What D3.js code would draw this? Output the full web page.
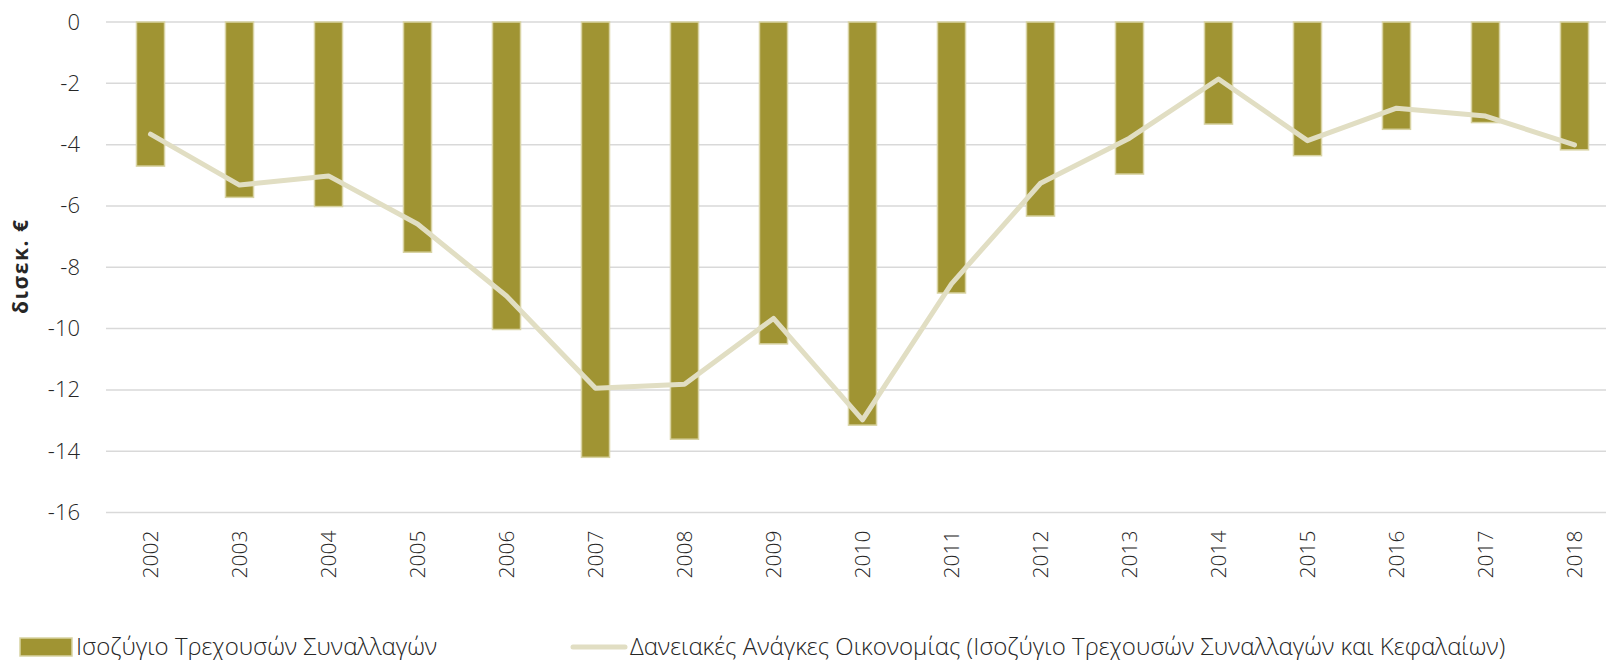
<!DOCTYPE html>
<html>
<head>
<meta charset="utf-8">
<script src="https://cdn.jsdelivr.net/npm/d3@7"></script>
<style>
  body { margin: 0; background: #fff; }
  svg { display: block; font-family: "Open Sans", sans-serif; }
</style>
</head>
<body>
<svg id="chart" width="1606" height="660"></svg>
<script>
var years = ['2002', '2003', '2004', '2005', '2006', '2007', '2008', '2009', '2010',
             '2011', '2012', '2013', '2014', '2015', '2016', '2017', '2018'];
// Ισοζύγιο Τρεχουσών Συναλλαγών (bars)
var currentAccount = [-4.70, -5.72, -6.02, -7.51, -10.03, -14.20, -13.61, -10.50, -13.15,
                      -8.84, -6.33, -4.96, -3.33, -4.36, -3.50, -3.28, -4.17];
// Δανειακές Ανάγκες Οικονομίας (line)
var borrowingNeeds = [-3.66, -5.32, -5.02, -6.59, -8.94, -11.95, -11.82, -9.67, -12.98,
                      -8.54, -5.26, -3.79, -1.86, -3.87, -2.81, -3.07, -4.01];
var yTicks = [0, -2, -4, -6, -8, -10, -12, -14, -16];

var barName = 'Ισοζύγιο Τρεχουσών Συναλλαγών';
var lineName = 'Δανειακές Ανάγκες Οικονομίας (Ισοζύγιο Τρεχουσών Συναλλαγών και Κεφαλαίων)';

var svg = d3.select('#chart');

var plotLeft = 106, plotRight = 1619, plotTop = 22, plotBottom = 512.5;

var x = d3.scaleBand()
    .domain(years)
    .range([plotLeft, plotRight])
    .paddingInner(0.685)
    .paddingOuter(0.3425);

var y = d3.scaleLinear()
    .domain([0, -16])
    .range([plotTop, plotBottom]);

// gridlines
svg.append('g')
    .selectAll('line')
    .data(yTicks)
    .enter()
    .append('line')
        .attr('x1', plotLeft)
        .attr('x2', 1606)
        .attr('y1', function (d) { return y(d); })
        .attr('y2', function (d) { return y(d); })
        .attr('stroke', '#d9d9d9')
        .attr('stroke-width', 1.5);

// y axis labels
var yAxis = d3.axisLeft(y).tickValues(yTicks).tickSize(0).tickPadding(0)
    .tickFormat(function (d) { return d; });
var yg = svg.append('g')
    .attr('transform', 'translate(80,0)')
    .call(yAxis);
yg.select('.domain').remove();
yg.selectAll('text')
    .attr('font-family', '"Open Sans", sans-serif')
    .attr('font-weight', 300)
    .attr('font-size', 22)
    .attr('fill', '#262626');

// bars
svg.append('g')
    .selectAll('rect')
    .data(currentAccount)
    .enter()
    .append('rect')
        .attr('x', function (d, i) { return x(years[i]); })
        .attr('y', y(0))
        .attr('width', x.bandwidth())
        .attr('height', function (d) { return y(d) - y(0); })
        .attr('fill', '#a09433')
        .attr('stroke', '#d8d3a3')
        .attr('stroke-width', 1.5);

// line
var line = d3.line()
    .x(function (d, i) { return x(years[i]) + x.bandwidth() / 2; })
    .y(function (d) { return y(d); });

svg.append('path')
    .datum(borrowingNeeds)
    .attr('d', line)
    .attr('fill', 'none')
    .attr('stroke', '#e1dec3')
    .attr('stroke-width', 5)
    .attr('stroke-linecap', 'round')
    .attr('stroke-linejoin', 'round');

// x axis labels
var xAxis = d3.axisBottom(x).tickSize(0).tickPadding(0);
var xg = svg.append('g')
    .attr('transform', 'translate(0,' + plotBottom + ')')
    .call(xAxis);
xg.select('.domain').remove();
xg.selectAll('text')
    .attr('font-family', '"Open Sans", sans-serif')
    .attr('font-weight', 300)
    .attr('font-size', 21)
    .attr('fill', '#262626')
    .attr('y', 0)
    .attr('text-anchor', 'end')
    .attr('dy', '0.35em')
    .attr('transform', 'translate(0,18) rotate(-90)');

// y axis title
svg.append('text')
    .attr('transform', 'translate(28,' + ((plotTop + plotBottom) / 2 - 1) + ') rotate(-90)')
    .attr('text-anchor', 'middle')
    .attr('font-family', '"Open Sans", sans-serif')
    .attr('font-weight', 700)
    .attr('font-size', 21)
    .attr('letter-spacing', 1.5)
    .attr('fill', '#262626')
    .text('δισεκ. €');

// legend
var legend = svg.append('g');
legend.append('rect')
    .attr('x', 20)
    .attr('y', 638)
    .attr('width', 52)
    .attr('height', 18)
    .attr('fill', '#a09433')
    .attr('stroke', '#d8d3a3')
    .attr('stroke-width', 1.5);
legend.append('text')
    .attr('x', 76)
    .attr('y', 655)
    .attr('font-weight', 300)
    .attr('font-size', 24)
    .attr('fill', '#262626')
    .text(barName);
legend.append('line')
    .attr('x1', 573)
    .attr('x2', 625)
    .attr('y1', 647)
    .attr('y2', 647)
    .attr('stroke', '#e1dec3')
    .attr('stroke-width', 5)
    .attr('stroke-linecap', 'round');
legend.append('text')
    .attr('x', 630)
    .attr('y', 655)
    .attr('font-weight', 300)
    .attr('font-size', 24)
    .attr('fill', '#262626')
    .text(lineName);
</script>
</body>
</html>
